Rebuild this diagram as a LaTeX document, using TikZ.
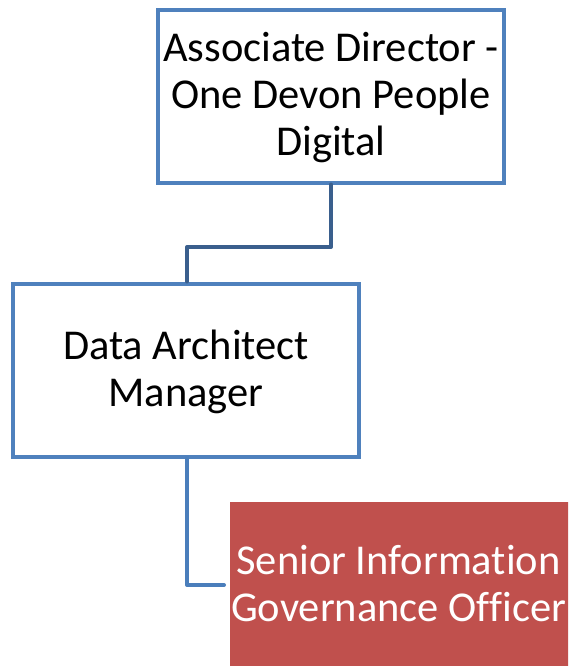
\documentclass[tikz,border=0pt]{standalone}
\usepackage{fontspec}
\setmainfont{Carlito}[Ligatures=NoCommon]
\begin{document}
\begin{tikzpicture}[x=1pt,y=-1pt,
  box/.style={draw=boxblue,line width=4pt,fill=white,align=center,inner sep=0pt},
  lbl/.style={align=center,inner sep=0pt,font=\fontsize{42.5}{47}\selectfont},
  conn/.style={line width=4pt,line join=round,line cap=round}]
\definecolor{boxblue}{HTML}{4F81BD}
\definecolor{darkconn}{HTML}{3A5F8D}
\definecolor{midconn}{HTML}{4A7EBB}
\definecolor{redbox}{HTML}{C0504D}
\useasboundingbox (0,0) rectangle (568,666);
\clip (0,0) rectangle (568,666);
\coordinate (c1a) at (331,247);
\coordinate (c1b) at (187,247);
\coordinate (c2) at (187,585);
\node[box,minimum width=346pt,minimum height=172pt] (ad) at (330.5,96.5) {};
\node[box,minimum width=346pt,minimum height=173pt] (dam) at (186,370) {};
\node[fill=redbox,inner sep=0pt,minimum width=340pt,minimum height=166pt,anchor=north west] (sigo) at (230,502) {};
\draw[conn,darkconn] (ad.south -| c1a) -- (c1a) -- (c1b) -- (dam.north -| c1b);
\draw[conn,midconn] (dam.south -| c2) -- (c2) -- ([xshift=-6pt]sigo.west |- c2);
\node[lbl] (adt) at (331,97.5) {Associate Director -\\One Devon People\\Digital};
\node[lbl] (damt) at (186,371.5) {Data Architect\\Manager};
\node[lbl,text=white] (sigot) at (398.5,584) {Senior Information\\Governance Officer};
\end{tikzpicture}
\end{document}
